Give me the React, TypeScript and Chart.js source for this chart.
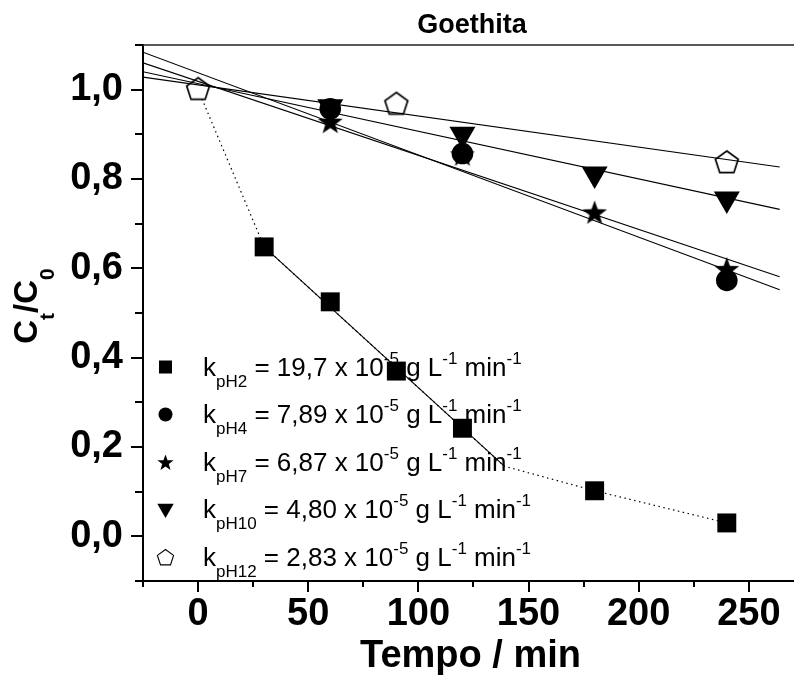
import React, { useEffect, useRef } from 'react';
import { Chart, registerables } from 'chart.js';

Chart.register(...registerables);

const FONT = "'Liberation Sans', Arial, Helvetica, sans-serif";

const TITLE = 'Goethita';
const X_TITLE = 'Tempo / min';

const xTickValues = [-25, 0, 25, 50, 75, 100, 125, 150, 175, 200, 225, 250];
const xTicksMajor = [0, 50, 100, 150, 200, 250];
const yTicksMajor = [0, 0.2, 0.4, 0.6, 0.8, 1.0];

// pH 2 (squares)
const tPH2 = [30, 60, 90, 120, 180, 240];
const cPH2 = [0.648, 0.525, 0.37, 0.242, 0.102, 0.03];
// dotted guide curve through pH 2
const tPH2Curve = [0, 30, 139, 180, 240];
const cPH2Curve = [1.0, 0.648, 0.157, 0.102, 0.03];
// linear fit pH 2
const tPH2Fit = [30, 139];
const cPH2Fit = [0.648, 0.157];

// pH 4 (circles)
const tPH4 = [60, 120, 240];
const cPH4 = [0.957, 0.857, 0.573];
// pH 7 (stars)
const tPH7 = [60, 120, 180, 240];
const cPH7 = [0.926, 0.853, 0.723, 0.596];
// pH 10 (down triangles)
const tPH10 = [60, 120, 180, 240];
const cPH10 = [0.962, 0.9, 0.811, 0.755];
// pH 12 (open pentagons)
const tPH12 = [0, 90, 240];
const cPH12 = [1.0, 0.967, 0.836];

// linear fits, pH 4/7/10/12
const tFit = [-25, 264];
const cFitPH4 = [1.084, 0.552];
const cFitPH7 = [1.06, 0.581];
const cFitPH10 = [1.04, 0.732];
const cFitPH12 = [1.028, 0.827];

// legend
const legendSub = ['pH2', 'pH4', 'pH7', 'pH10', 'pH12'];
const legendK = ['19,7', '7,89', '6,87', '4,80', '2,83'];
const legendShape = ['square', 'circle', 'star', 'triangle', 'pentagon'];

type Part = [string, number, number, boolean];

function starPath(ctx: CanvasRenderingContext2D, x: number, y: number, R: number, r: number) {
  ctx.beginPath();
  for (let i = 0; i < 10; i++) {
    const rad = i % 2 === 0 ? R : r;
    const a = -Math.PI / 2 + (i * Math.PI) / 5;
    const px = x + rad * Math.cos(a);
    const py = y + rad * Math.sin(a);
    if (i === 0) ctx.moveTo(px, py);
    else ctx.lineTo(px, py);
  }
  ctx.closePath();
}

function pentPath(ctx: CanvasRenderingContext2D, x: number, y: number, R: number) {
  ctx.beginPath();
  for (let i = 0; i < 5; i++) {
    const a = -Math.PI / 2 + (i * 2 * Math.PI) / 5;
    const px = x + R * Math.cos(a);
    const py = y + R * Math.sin(a);
    if (i === 0) ctx.moveTo(px, py);
    else ctx.lineTo(px, py);
  }
  ctx.closePath();
}

function triDownPath(ctx: CanvasRenderingContext2D, x: number, y: number, r: number) {
  ctx.beginPath();
  for (let i = 0; i < 3; i++) {
    const a = Math.PI / 2 + (i * 2 * Math.PI) / 3;
    const px = x + r * Math.cos(a);
    const py = y + r * Math.sin(a);
    if (i === 0) ctx.moveTo(px, py);
    else ctx.lineTo(px, py);
  }
  ctx.closePath();
}

function makeStar(R: number, r: number) {
  const s = Math.ceil(2 * R + 4);
  const c = document.createElement('canvas');
  c.width = s;
  c.height = s;
  const ctx = c.getContext('2d')!;
  ctx.fillStyle = '#000';
  starPath(ctx, s / 2, s / 2, R, r);
  ctx.fill();
  return c;
}

function makePent(R: number) {
  const s = Math.ceil(2 * R + 4);
  const c = document.createElement('canvas');
  c.width = s;
  c.height = s;
  const ctx = c.getContext('2d')!;
  pentPath(ctx, s / 2, s / 2, R);
  ctx.fillStyle = '#fff';
  ctx.fill();
  ctx.lineWidth = 1.7;
  ctx.strokeStyle = '#000';
  ctx.stroke();
  return c;
}

function measureRich(ctx: CanvasRenderingContext2D, parts: Part[]) {
  let w = 0;
  for (const [text, size, , bold] of parts) {
    ctx.font = `${bold ? 'bold ' : ''}${size}px ${FONT}`;
    w += ctx.measureText(text).width;
  }
  return w;
}

function drawRich(ctx: CanvasRenderingContext2D, x: number, y: number, parts: Part[]) {
  for (const [text, size, dy, bold] of parts) {
    ctx.font = `${bold ? 'bold ' : ''}${size}px ${FONT}`;
    ctx.fillText(text, x, y + dy);
    x += ctx.measureText(text).width;
  }
  return x;
}

const decorations = {
  id: 'decorations',
  beforeDatasetsDraw(chart: any) {
    const ctx: CanvasRenderingContext2D = chart.ctx;
    const { left, right, top } = chart.chartArea;
    ctx.save();
    // top frame line
    ctx.strokeStyle = '#222';
    ctx.lineWidth = 1.5;
    ctx.beginPath();
    ctx.moveTo(left, top);
    ctx.lineTo(right, top);
    ctx.stroke();

    // legend (drawn below the data)
    ctx.fillStyle = '#000';
    ctx.strokeStyle = '#000';
    ctx.textBaseline = 'alphabetic';
    ctx.textAlign = 'left';
    const mx = 165.5;
    for (let i = 0; i < legendSub.length; i++) {
      const cy = 367 + i * 47.5;
      const shape = legendShape[i];
      ctx.fillStyle = '#000';
      if (shape === 'square') {
        ctx.fillRect(mx - 6.5, cy - 6.5, 13, 13);
      } else if (shape === 'circle') {
        ctx.beginPath();
        ctx.arc(mx, cy, 7, 0, Math.PI * 2);
        ctx.fill();
      } else if (shape === 'star') {
        starPath(ctx, mx, cy + 1, 8.5, 3.5);
        ctx.fill();
      } else if (shape === 'triangle') {
        triDownPath(ctx, mx, cy - 1, 9.5);
        ctx.fill();
      } else {
        pentPath(ctx, mx, cy + 1, 8.5);
        ctx.fillStyle = '#fff';
        ctx.fill();
        ctx.lineWidth = 1.1;
        ctx.stroke();
      }
      ctx.fillStyle = '#000';
      const base = cy + 8.5;
      const parts: Part[] = [
        ['k', 26, 0, false],
        [legendSub[i], 17, 11, false],
        [' = ' + legendK[i] + ' x 10', 26, 0, false],
        ['-5', 17, -12, false],
        [' g L', 26, 0, false],
        ['-1', 17, -12, false],
        [' min', 26, 0, false],
        ['-1', 17, -12, false],
      ];
      drawRich(ctx, 203, base, parts);
    }
    ctx.restore();
  },
  afterDraw(chart: any) {
    const ctx: CanvasRenderingContext2D = chart.ctx;
    const xs = chart.scales.x;
    const ys = chart.scales.y;
    const { left, right, bottom } = chart.chartArea;
    ctx.save();
    ctx.strokeStyle = '#000';
    ctx.lineWidth = 2;
    // x tick marks
    xs.ticks.forEach((t: any) => {
      const v = t.value;
      const px = Math.round(xs.getPixelForValue(v));
      const major = xTicksMajor.some((m) => Math.abs(m - v) < 1e-6);
      ctx.beginPath();
      ctx.moveTo(px, bottom);
      ctx.lineTo(px, bottom + 1 + (major ? 10 : 5));
      ctx.stroke();
    });
    // y tick marks
    ys.ticks.forEach((t: any) => {
      const v = t.value;
      const py = Math.round(ys.getPixelForValue(v));
      const major = yTicksMajor.some((m) => Math.abs(m - v) < 1e-6);
      ctx.beginPath();
      ctx.moveTo(left, py);
      ctx.lineTo(left - 1 - (major ? 11 : 7), py);
      ctx.stroke();
    });

    ctx.fillStyle = '#000';
    ctx.textBaseline = 'alphabetic';
    // title
    ctx.textAlign = 'center';
    ctx.font = `bold 27px ${FONT}`;
    ctx.fillText(TITLE, 472, 33);
    // x title
    ctx.font = `bold 38px ${FONT}`;
    ctx.fillText(X_TITLE, (left + right) / 2 + 2, 667);

    // y title  C_t / C_0
    ctx.textAlign = 'left';
    const yParts: Part[] = [
      ['C', 33, 0, true],
      ['t', 21, 17, true],
      ['/', 33, 0, true],
      ['C', 33, 0, true],
      ['0', 21, 17, true],
    ];
    const w = measureRich(ctx, yParts);
    ctx.translate(37, 306);
    ctx.rotate(-Math.PI / 2);
    drawRich(ctx, -w / 2, 0, yParts);
    ctx.restore();
  },
};

export default function App() {
  const ref = useRef<HTMLCanvasElement>(null);

  useEffect(() => {
    const canvas = ref.current!;
    const starImg = makeStar(13, 5.3);
    const pentImg = makePent(12);
    const pts = (xs: number[], ys: number[]) => xs.map((x, i) => ({ x, y: ys[i] }));

    const marker = {
      showLine: false,
      pointBorderWidth: 0,
      pointBackgroundColor: '#000',
      pointBorderColor: '#000',
      borderColor: '#000',
      backgroundColor: '#000',
    };
    const line = {
      showLine: true,
      pointRadius: 0,
      borderColor: '#000',
      borderWidth: 1.1,
      tension: 0,
      fill: false,
    };

    const chart = new Chart(canvas, {
      type: 'scatter',
      data: {
        datasets: [
          { ...line, label: 'fit pH4', data: pts(tFit, cFitPH4), order: 0 },
          { ...line, label: 'fit pH7', data: pts(tFit, cFitPH7), order: 0 },
          { ...line, label: 'fit pH10', data: pts(tFit, cFitPH10), order: 0 },
          { ...line, label: 'fit pH12', data: pts(tFit, cFitPH12), order: 0 },
          { ...line, label: 'fit pH2', data: pts(tPH2Fit, cPH2Fit), order: 0 },
          { ...marker, label: 'pH12', data: pts(tPH12, cPH12), pointStyle: pentImg, pointRadius: 12, order: 1 },
          { ...marker, label: 'pH4', data: pts(tPH4, cPH4), pointStyle: 'circle', pointRadius: 10.8, order: 2 },
          { ...marker, label: 'pH7', data: pts(tPH7, cPH7), pointStyle: starImg, pointRadius: 13, order: 3 },
          { ...marker, label: 'pH10', data: pts(tPH10, cPH10), pointStyle: 'triangle', pointRotation: 180, pointRadius: 15, order: 4 },
          { ...marker, label: 'pH2', data: pts(tPH2, cPH2), pointStyle: 'rect', pointRadius: 13.4, order: 5 },
          {
            ...line,
            label: 'pH2 curve',
            data: pts(tPH2Curve, cPH2Curve),
            borderDash: [1.5, 3.5],
            borderWidth: 1.2,
            order: 10,
          },
        ] as any,
      },
      options: {
        animation: false,
        responsive: false,
        devicePixelRatio: 1,
        events: [],
        layout: { autoPadding: false, padding: { top: 45, left: 0, right: 0, bottom: 0 } },
        plugins: {
          legend: { display: false },
          tooltip: { enabled: false },
          title: { display: false },
        },
        scales: {
          x: {
            type: 'linear',
            min: -25,
            max: 270.5,
            afterBuildTicks: (s: any) => {
              s.ticks = xTickValues.map((v) => ({ value: v }));
            },
            afterFit: (s: any) => {
              s.height = 99;
            },
            grid: { display: false, drawTicks: false },
            border: { display: true, color: '#000', width: 2 },
            ticks: {
              autoSkip: false,
              maxRotation: 0,
              padding: 0,
              color: '#000',
              font: { family: FONT, size: 38, weight: 'bold', lineHeight: 1.76 },
              callback: (v: any) =>
                xTicksMajor.some((m) => Math.abs(m - Number(v)) < 1e-6) ? String(Math.round(Number(v))) : '',
            },
          },
          y: {
            type: 'linear',
            min: -0.1,
            max: 1.1,
            afterFit: (s: any) => {
              s.width = 143;
            },
            grid: { display: false, drawTicks: false },
            border: { display: true, color: '#000', width: 2 },
            ticks: {
              stepSize: 0.1,
              autoSkip: false,
              padding: 20,
              color: '#000',
              font: { family: FONT, size: 38, weight: 'bold' },
              callback: (v: any) => {
                const n = Number(v);
                return yTicksMajor.some((m) => Math.abs(m - n) < 1e-6)
                  ? (Math.round(n * 10) / 10).toFixed(1).replace('.', ',')
                  : '';
              },
            },
          },
        },
      } as any,
      plugins: [decorations],
    });
    return () => chart.destroy();
  }, []);

  return (
    <div style={{ position: 'absolute', left: 0, top: 0, width: 794, height: 680, background: '#fff', overflow: 'hidden' }}>
      <canvas ref={ref} width={794} height={680} style={{ display: 'block', width: 794, height: 680 }} />
    </div>
  );
}
